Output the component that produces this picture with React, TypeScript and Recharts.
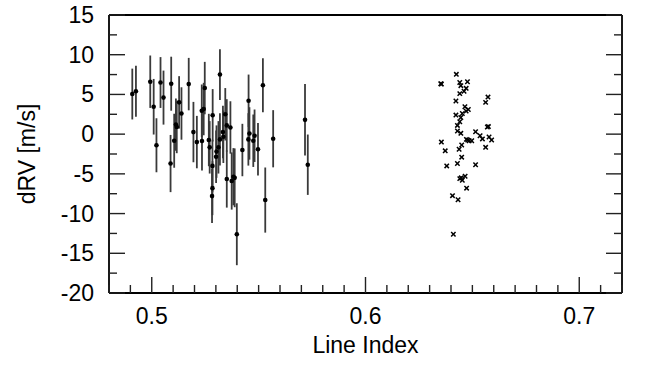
import React from "react";
import {
  ScatterChart,
  Scatter,
  XAxis,
  YAxis,
  ErrorBar,
  Label,
} from "recharts";

// left group: dots with error bars
const lineIndexA = [
  0.4909, 0.4926, 0.4993, 0.5009, 0.5022, 0.5041, 0.5055, 0.5088, 0.5091, 0.5105,
  0.5113, 0.5117, 0.5128, 0.5139, 0.5173, 0.5195, 0.5211, 0.5235, 0.5234, 0.5243,
  0.5248, 0.5267, 0.5271, 0.5285, 0.5284, 0.5284, 0.5282, 0.5301, 0.5303, 0.5312,
  0.5319, 0.5319, 0.5333, 0.5335, 0.5344, 0.5351, 0.5351, 0.5368, 0.5374, 0.5382,
  0.5388, 0.5398, 0.5424, 0.5452, 0.5453, 0.5457, 0.5475, 0.5481, 0.5497, 0.552,
  0.5531, 0.5568, 0.5717, 0.573,
];
const dRvA = [
  5.05, 5.4, 6.6, 3.45, -1.4, 6.5, 4.6, -3.7, 6.35, -0.83,
  1.2, 0.9, 4.0, 2.6, 6.3, 0.26, -1.0, -0.87, 2.95, 3.16,
  5.8, -0.74, -1.66, 2.37, -4.0, -6.8, -7.8, -2.85, -2.2, -1.66,
  7.5, -0.66, 0.26, -0.33, 2.5, 1.1, -5.65, 0.84, -5.9, -5.36,
  -5.5, -12.6, -2.0, -0.66, 4.2, 0.09, -0.83, -0.2, -1.9, 6.15,
  -8.3, -0.58, 1.8, -3.85,
];
const errA = [
  3.2, 3.2, 3.3, 3.5, 3.4, 3.2, 3.4, 3.6, 3.4, 3.4,
  3.3, 3.3, 3.3, 3.3, 3.3, 3.8, 3.3, 3.7, 3.3, 3.3,
  3.3, 3.3, 3.3, 3.3, 3.3, 3.4, 3.4, 3.3, 3.3, 3.3,
  3.2, 3.3, 3.3, 3.3, 3.3, 3.3, 3.6, 3.3, 3.6, 3.6,
  3.7, 3.9, 3.3, 3.3, 3.3, 3.3, 3.3, 3.3, 3.3, 3.4,
  4.1, 3.6, 4.5, 3.8,
];

// right group: crosses
const lineIndexB = [
  0.6425, 0.6352, 0.6355, 0.6441, 0.6477, 0.6446, 0.6471, 0.6461, 0.6441, 0.6573,
  0.6562, 0.6423, 0.6465, 0.6481, 0.6471, 0.6453, 0.6423, 0.6446, 0.6441, 0.643,
  0.657, 0.6575, 0.643, 0.6446, 0.6515, 0.6536, 0.6472, 0.6485, 0.6497, 0.6478,
  0.6547, 0.6578, 0.659, 0.6355, 0.645, 0.6438, 0.6373, 0.6562, 0.645, 0.643,
  0.6515, 0.638, 0.6466, 0.6441, 0.6453, 0.6448, 0.6473, 0.6407, 0.6433, 0.6411,
];
const dRvB = [
  7.53, 6.35, 6.3, 6.5, 6.6, 6.1, 5.77, 5.4, 5.1, 4.67,
  4.0, 4.17, 3.45, 3.1, 2.9, 2.6, 2.4, 2.1, 1.56, 1.1,
  0.9, 0.95, 0.4, 0.1, 0.3, -0.2, -0.66, -0.83, -0.83, -0.75,
  -0.6, -0.36, -0.74, -1.0, -1.37, -1.9, -2.1, -1.66, -2.9, -3.7,
  -3.85, -4.0, -5.3, -5.6, -5.8, -5.5, -6.8, -7.75, -8.26, -12.6,
];

const xTicks = [
  0.48, 0.49, 0.5, 0.51, 0.52, 0.53, 0.54, 0.55, 0.56, 0.57, 0.58, 0.59, 0.6,
  0.61, 0.62, 0.63, 0.64, 0.65, 0.66, 0.67, 0.68, 0.69, 0.7, 0.71, 0.72,
];
const yTicks = [
  -20, -17.5, -15, -12.5, -10, -7.5, -5, -2.5, 0, 2.5, 5, 7.5, 10, 12.5, 15,
];

const dataA = lineIndexA.map((x, i) => ({ x, y: dRvA[i], err: errA[i] }));
const dataB = lineIndexB.map((x, i) => ({ x, y: dRvB[i] }));

const FONT = "'Liberation Sans', Arial, Helvetica, sans-serif";
const FS = 23;

const isMajorX = (v: number) => Math.abs(v * 10 - Math.round(v * 10)) < 1e-6;
const isMajorY = (v: number) => Math.abs(v % 5) < 1e-6;

function BottomTick(props: any) {
  const { x, y, payload } = props;
  const major = isMajorX(payload.value);
  return (
    <g>
      <line x1={x} x2={x} y1={y} y2={y - (major ? 16 : 8)} stroke="#222" strokeWidth={1.4} />
      {major && (
        <text x={x} y={y + 31} textAnchor="middle" fontFamily={FONT} fontSize={FS} fill="#000">
          {payload.value.toFixed(1)}
        </text>
      )}
    </g>
  );
}

function TopTick(props: any) {
  const { x, y, payload } = props;
  const major = isMajorX(payload.value);
  return <line x1={x} x2={x} y1={y} y2={y + (major ? 16 : 8)} stroke="#222" strokeWidth={1.4} />;
}

function LeftTick(props: any) {
  const { x, y, payload } = props;
  const major = isMajorY(payload.value);
  return (
    <g>
      <line x1={x} x2={x + (major ? 16 : 8)} y1={y} y2={y} stroke="#222" strokeWidth={1.4} />
      {major && (
        <text x={x - 15} y={y + 8} textAnchor="end" fontFamily={FONT} fontSize={FS} fill="#000">
          {payload.value}
        </text>
      )}
    </g>
  );
}

function RightTick(props: any) {
  const { x, y, payload } = props;
  const major = isMajorY(payload.value);
  return <line x1={x} x2={x - (major ? 16 : 8)} y1={y} y2={y} stroke="#222" strokeWidth={1.4} />;
}

function YLabel(props: any) {
  const { x, y, height } = props.viewBox;
  const cx = x + 27;
  const cy = y + height / 2;
  return (
    <text
      x={cx}
      y={cy}
      transform={`rotate(-90, ${cx}, ${cy})`}
      textAnchor="middle"
      dominantBaseline="central"
      fontFamily={FONT}
      fontSize={FS}
      fill="#000"
    >
      dRV [m/s]
    </text>
  );
}

function XLabel(props: any) {
  const { x, y, width } = props.viewBox;
  return (
    <text x={x + width / 2} y={y + 60} textAnchor="middle" fontFamily={FONT} fontSize={FS} fill="#000">
      Line Index
    </text>
  );
}

const Dot = (p: any) => <circle cx={p.cx} cy={p.cy} r={2.3} fill="#000" />;
const Cross = (p: any) => (
  <g stroke="#000" strokeWidth={1.5}>
    <line x1={p.cx - 2.2} y1={p.cy - 2.2} x2={p.cx + 2.2} y2={p.cy + 2.2} />
    <line x1={p.cx - 2.2} y1={p.cy + 2.2} x2={p.cx + 2.2} y2={p.cy - 2.2} />
  </g>
);

const axisLine = { stroke: "#000", strokeWidth: 1.8 };

export default function App() {
  return (
    <div style={{ position: "absolute", left: 0, top: 0, background: "#fff" }}>
      <ScatterChart width={662} height={365} margin={{ top: 14, right: 39, bottom: 0, left: 0 }}>
        <XAxis
          xAxisId="b"
          type="number"
          dataKey="x"
          domain={[0.48, 0.72]}
          allowDataOverflow
          ticks={xTicks}
          interval={0}
          height={72}
          tickSize={0}
          tickMargin={0}
          tickLine={false}
          axisLine={axisLine}
          tick={<BottomTick />}
        >
          <Label content={<XLabel />} />
        </XAxis>
        <XAxis
          xAxisId="t"
          orientation="top"
          type="number"
          domain={[0.48, 0.72]}
          allowDataOverflow
          ticks={xTicks}
          interval={0}
          height={1}
          tickSize={0}
          tickMargin={0}
          tickLine={false}
          axisLine={axisLine}
          tick={<TopTick />}
        />
        <YAxis
          yAxisId="l"
          type="number"
          dataKey="y"
          domain={[-20, 15]}
          allowDataOverflow
          ticks={yTicks}
          interval={0}
          width={109}
          tickSize={0}
          tickMargin={0}
          tickLine={false}
          axisLine={axisLine}
          tick={<LeftTick />}
        >
          <Label content={<YLabel />} />
        </YAxis>
        <YAxis
          yAxisId="r"
          orientation="right"
          type="number"
          domain={[-20, 15]}
          allowDataOverflow
          ticks={yTicks}
          interval={0}
          width={1}
          tickSize={0}
          tickMargin={0}
          tickLine={false}
          axisLine={axisLine}
          tick={<RightTick />}
        />
        <Scatter
          xAxisId="b"
          yAxisId="l"
          data={dataA}
          shape={Dot}
          isAnimationActive={false}
        >
          <ErrorBar
            dataKey="err"
            direction="y"
            width={0}
            stroke="#3a3a3a"
            strokeWidth={1.8}
            isAnimationActive={false}
          />
        </Scatter>
        <Scatter
          xAxisId="b"
          yAxisId="l"
          data={dataB}
          shape={Cross}
          isAnimationActive={false}
        />
      </ScatterChart>
    </div>
  );
}
